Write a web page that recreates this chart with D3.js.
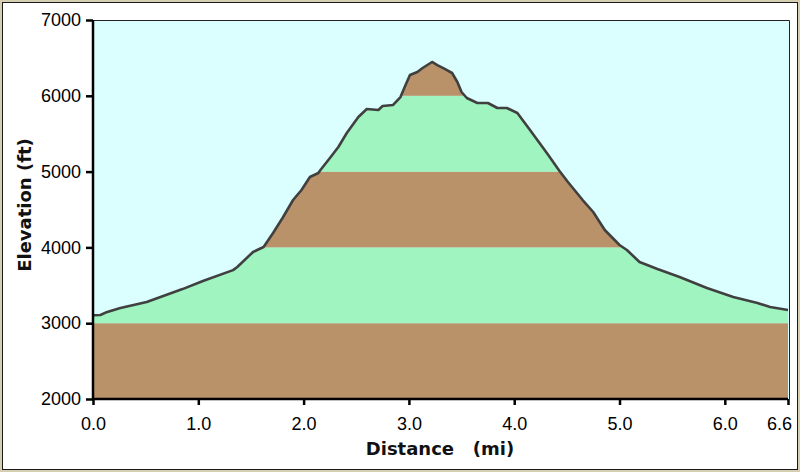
<!DOCTYPE html>
<html><head><meta charset="utf-8">
<script src="https://cdn.jsdelivr.net/npm/d3@7"></script>
<style>html,body{margin:0;padding:0;background:#fff}svg{display:block}</style>
</head><body>
<svg id="c" width="800" height="472"></svg>
<script>
const distance = [0.00,0.07,0.12,0.26,0.51,0.85,1.05,1.33,1.37,1.52,1.62,1.71,1.80,1.90,1.98,2.06,2.14,2.16,2.25,2.33,2.41,2.52,2.60,2.71,2.75,2.85,2.92,2.96,3.01,3.08,3.13,3.22,3.27,3.34,3.41,3.46,3.50,3.55,3.65,3.75,3.84,3.93,4.03,4.15,4.31,4.43,4.51,4.65,4.75,4.86,5.00,5.07,5.19,5.36,5.57,5.83,6.08,6.31,6.43,6.60];
const elevation = [3105,3108,3140,3200,3280,3450,3560,3700,3741,3940,4005,4190,4388,4625,4757,4929,4981,5021,5180,5325,5509,5720,5826,5812,5865,5879,5984,6116,6274,6314,6367,6446,6406,6354,6301,6182,6050,5971,5905,5905,5839,5839,5773,5549,5245,5008,4863,4625,4467,4230,4032,3966,3807,3715,3609,3464,3346,3266,3214,3174];
const xTicks = [0,1,2,3,4,5,6,6.6];
const yTicks = [2000,3000,4000,5000,6000,7000];
const bandColors = ["#b9926a","#9ff4bf"];

const svg = d3.select("#c");
svg.append("rect").attr("x",0).attr("y",0).attr("width",800).attr("height",472).attr("fill","#d6ceb0");
svg.append("rect").attr("x",2.5).attr("y",2.5).attr("width",795).attr("height",467).attr("fill","#fff").attr("stroke","#1a1a1a");

const x = d3.scaleLinear().domain([0,6.6]).range([93,788]);
const y = d3.scaleLinear().domain([2000,7000]).range([399,20]);
const pts = distance.map((d,i)=>[d,elevation[i]]);

svg.append("rect").attr("x",x(0)).attr("y",y(7000)).attr("width",789-x(0)).attr("height",y(2000)-y(7000)).attr("fill","#dbffff");

const area = d3.area().x(d=>x(d[0])).y0(y(2000)).y1(d=>y(d[1]));
svg.append("clipPath").attr("id","ac").append("path").attr("d",area(pts));
const bands = svg.append("g").attr("clip-path","url(#ac)");
for(let i=0;i<yTicks.length-1;i++){
  bands.append("rect").attr("x",x(0)).attr("width",x(6.6)-x(0)+2)
    .attr("y",y(yTicks[i+1])).attr("height",y(yTicks[i])-y(yTicks[i+1]))
    .attr("fill",bandColors[i%2]);
}
const line = d3.line().x(d=>x(d[0])).y(d=>y(d[1]));
svg.append("path").attr("d",line(pts)).attr("fill","none").attr("stroke","#404040").attr("stroke-width",2.6).attr("stroke-linejoin","round");

// plot frame top/right
svg.append("path").attr("d",`M${x(0)},20.5H789.5V${y(2000)}`).attr("fill","none").attr("stroke","#222").attr("stroke-width",1);

const fontTick = "'Liberation Sans', Arial, sans-serif";
const ya = d3.axisLeft(y).tickValues(yTicks).tickSize(7).tickPadding(5).tickFormat(d3.format("d"));
const gy = svg.append("g").attr("transform",`translate(${x(0)},0)`).call(ya);
const xa = d3.axisBottom(x).tickValues(xTicks).tickSize(6).tickPadding(12).tickFormat(d3.format(".1f"));
const gx = svg.append("g").attr("transform",`translate(0,${y(2000)})`).call(xa);
[gy,gx].forEach(g=>{
  g.select(".domain").attr("stroke","#000").attr("stroke-width",2.5);
  g.selectAll(".tick line").attr("stroke","#000").attr("stroke-width",2.5);
  g.selectAll(".tick text").attr("fill","#000").style("font-family",fontTick).style("font-size","18px");
});
gy.select(".domain").attr("d",`M0,${y(7000)}V${y(2000)+1}`);
gx.select(".domain").attr("d",`M${x(0)-1},0H${x(6.6)}`);
gx.selectAll(".tick text").filter(d=>d===6.6).attr("dx",-9);

svg.append("text").attr("x",440).attr("y",455).attr("text-anchor","middle")
  .style("font-family","'DejaVu Sans', sans-serif").style("font-weight","bold").style("font-size","18px")
  .style("white-space","pre").attr("fill","#111").text("Distance   (mi)");
svg.append("text").attr("transform","translate(31,205) rotate(-90)").attr("text-anchor","middle")
  .style("font-family","'DejaVu Sans', sans-serif").style("font-weight","bold").style("font-size","18px")
  .attr("fill","#111").text("Elevation (ft)");
</script>
</body></html>
